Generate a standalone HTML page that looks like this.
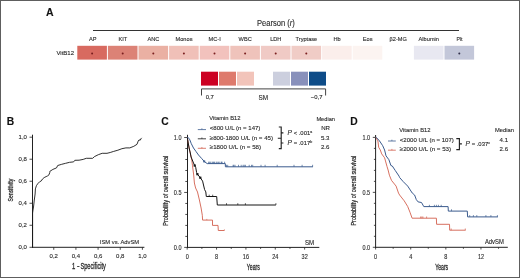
<!DOCTYPE html>
<html><head><meta charset="utf-8"><title>Figure</title>
<style>
html,body{margin:0;padding:0;background:#fff;}
body{width:520px;height:278px;overflow:hidden;position:relative;}
svg{display:block;filter:blur(0.3px);}
.bd{position:absolute;left:0;top:0;width:518px;height:276px;border:1px solid #5e5e5e;}
text{font-family:"Liberation Sans", sans-serif;}
text{stroke:#2a2a2a;stroke-width:0.12px;}
</style></head><body>
<svg width="520" height="278" viewBox="0 0 520 278">
<rect width="520" height="278" fill="#fff"/>
<text x="45.90" y="15.70" font-size="10.5" fill="#111" font-weight="bold">A</text>
<text x="257.0" y="25.6" font-size="8.2" textLength="37.8" lengthAdjust="spacingAndGlyphs" fill="#2a2a2a">Pearson (<tspan font-style="italic">r</tspan>)</text>
<line x1="93.00" y1="30.50" x2="459.00" y2="30.50" stroke="#333" stroke-width="1"/>
<rect x="77.30" y="45.80" width="29.60" height="13.80" fill="#d86a60"/>
<text x="92.80" y="41.30" font-size="6.2" text-anchor="middle" fill="#2a2a2a" textLength="7.53" lengthAdjust="spacingAndGlyphs">AP</text>
<circle cx="92.10" cy="53.6" r="1.0" fill="#7a1f1f"/>
<rect x="107.90" y="45.80" width="29.60" height="13.80" fill="#dc8276"/>
<text x="122.80" y="41.30" font-size="6.2" text-anchor="middle" fill="#2a2a2a" textLength="8.78" lengthAdjust="spacingAndGlyphs">KIT</text>
<circle cx="122.70" cy="53.6" r="1.0" fill="#7a1f1f"/>
<rect x="138.50" y="45.80" width="29.60" height="13.80" fill="#eab0a3"/>
<text x="153.40" y="41.30" font-size="6.2" text-anchor="middle" fill="#2a2a2a" textLength="11.91" lengthAdjust="spacingAndGlyphs">ANC</text>
<circle cx="153.30" cy="53.6" r="1.0" fill="#7a1f1f"/>
<rect x="169.10" y="45.80" width="29.60" height="13.80" fill="#f0c0b8"/>
<text x="184.00" y="41.30" font-size="6.2" text-anchor="middle" fill="#2a2a2a" textLength="16.93" lengthAdjust="spacingAndGlyphs">Monos</text>
<circle cx="183.90" cy="53.6" r="1.0" fill="#7a1f1f"/>
<rect x="199.70" y="45.80" width="29.60" height="13.80" fill="#f2c2bd"/>
<text x="214.60" y="41.30" font-size="6.2" text-anchor="middle" fill="#2a2a2a" textLength="12.22" lengthAdjust="spacingAndGlyphs">MC-I</text>
<circle cx="214.50" cy="53.6" r="1.0" fill="#7a1f1f"/>
<rect x="230.30" y="45.80" width="29.60" height="13.80" fill="#efc3bb"/>
<text x="245.20" y="41.30" font-size="6.2" text-anchor="middle" fill="#2a2a2a" textLength="13.16" lengthAdjust="spacingAndGlyphs">WBC</text>
<circle cx="245.10" cy="53.6" r="1.0" fill="#7a1f1f"/>
<rect x="260.90" y="45.80" width="29.60" height="13.80" fill="#f0cac5"/>
<text x="275.80" y="41.30" font-size="6.2" text-anchor="middle" fill="#2a2a2a" textLength="11.29" lengthAdjust="spacingAndGlyphs">LDH</text>
<circle cx="275.70" cy="53.6" r="1.0" fill="#7a1f1f"/>
<rect x="291.50" y="45.80" width="29.60" height="13.80" fill="#f0ccc6"/>
<text x="306.40" y="41.30" font-size="6.2" text-anchor="middle" fill="#2a2a2a" textLength="21.74" lengthAdjust="spacingAndGlyphs">Tryptase</text>
<circle cx="306.30" cy="53.6" r="1.0" fill="#7a1f1f"/>
<rect x="322.10" y="45.80" width="29.60" height="13.80" fill="#fbeeeb"/>
<text x="337.00" y="41.30" font-size="6.2" text-anchor="middle" fill="#2a2a2a" textLength="7.21" lengthAdjust="spacingAndGlyphs">Hb</text>
<rect x="352.70" y="45.80" width="29.60" height="13.80" fill="#fcf4f1"/>
<text x="367.60" y="41.30" font-size="6.2" text-anchor="middle" fill="#2a2a2a" textLength="9.72" lengthAdjust="spacingAndGlyphs">Eos</text>
<rect x="383.30" y="45.80" width="29.60" height="13.80" fill="#ffffff"/>
<text x="398.20" y="41.30" font-size="6.2" text-anchor="middle" fill="#2a2a2a" textLength="17.35" lengthAdjust="spacingAndGlyphs">&#946;2-MG</text>
<rect x="413.90" y="45.80" width="29.60" height="13.80" fill="#e8e8f1"/>
<text x="428.80" y="41.30" font-size="6.2" text-anchor="middle" fill="#2a2a2a" textLength="20.38" lengthAdjust="spacingAndGlyphs">Albumin</text>
<rect x="444.50" y="45.80" width="29.60" height="13.80" fill="#c3c7d9"/>
<text x="459.40" y="41.30" font-size="6.2" text-anchor="middle" fill="#2a2a2a" textLength="6.01" lengthAdjust="spacingAndGlyphs">Plt</text>
<circle cx="459.30" cy="53.6" r="1.0" fill="#30304a"/>
<text x="74.00" y="54.90" font-size="6.0" text-anchor="end" fill="#2a2a2a">VitB12</text>
<rect x="201.00" y="71.70" width="17.00" height="13.90" fill="#cc0022"/>
<rect x="219.00" y="71.70" width="17.00" height="13.90" fill="#de7a6c"/>
<rect x="237.00" y="71.70" width="17.00" height="13.90" fill="#f2c4ba"/>
<rect x="273.00" y="71.70" width="17.00" height="13.90" fill="#cccfde"/>
<rect x="291.00" y="71.70" width="17.00" height="13.90" fill="#8890bb"/>
<rect x="309.00" y="71.70" width="17.00" height="13.90" fill="#0e4c88"/>
<path d="M201.5,95.5 V88.9 H325.6 V95.5" fill="none" stroke="#444" stroke-width="1"/>
<text x="205.70" y="98.70" font-size="5.9" fill="#2a2a2a">0,7</text>
<text x="258.60" y="99.90" font-size="7.0" fill="#2a2a2a" textLength="9.60" lengthAdjust="spacingAndGlyphs">SM</text>
<text x="310.80" y="98.70" font-size="5.9" fill="#2a2a2a">&#8722;0,7</text>
<g class="h">
<text x="6.70" y="125.00" font-size="10.3" fill="#111" font-weight="bold">B</text>
<line x1="32.50" y1="134.70" x2="32.50" y2="247.80" stroke="#222" stroke-width="1"/>
<line x1="32.00" y1="247.30" x2="144.40" y2="247.30" stroke="#222" stroke-width="1"/>
<line x1="29.50" y1="247.30" x2="32.50" y2="247.30" stroke="#222" stroke-width="0.8"/>
<text x="26.90" y="249.40" font-size="6.0" text-anchor="end" fill="#2a2a2a" textLength="8.34" lengthAdjust="spacingAndGlyphs">0,0</text>
<line x1="29.50" y1="225.28" x2="32.50" y2="225.28" stroke="#222" stroke-width="0.8"/>
<text x="26.90" y="227.38" font-size="6.0" text-anchor="end" fill="#2a2a2a" textLength="8.34" lengthAdjust="spacingAndGlyphs">0,2</text>
<line x1="29.50" y1="203.26" x2="32.50" y2="203.26" stroke="#222" stroke-width="0.8"/>
<text x="26.90" y="205.36" font-size="6.0" text-anchor="end" fill="#2a2a2a" textLength="8.34" lengthAdjust="spacingAndGlyphs">0,4</text>
<line x1="29.50" y1="181.24" x2="32.50" y2="181.24" stroke="#222" stroke-width="0.8"/>
<text x="26.90" y="183.34" font-size="6.0" text-anchor="end" fill="#2a2a2a" textLength="8.34" lengthAdjust="spacingAndGlyphs">0,6</text>
<line x1="29.50" y1="159.22" x2="32.50" y2="159.22" stroke="#222" stroke-width="0.8"/>
<text x="26.90" y="161.32" font-size="6.0" text-anchor="end" fill="#2a2a2a" textLength="8.34" lengthAdjust="spacingAndGlyphs">0,8</text>
<line x1="29.50" y1="137.20" x2="32.50" y2="137.20" stroke="#222" stroke-width="0.8"/>
<text x="26.90" y="139.30" font-size="6.0" text-anchor="end" fill="#2a2a2a" textLength="8.34" lengthAdjust="spacingAndGlyphs">1,0</text>
<line x1="53.76" y1="247.30" x2="53.76" y2="249.80" stroke="#222" stroke-width="0.8"/>
<text x="53.76" y="257.90" font-size="6.0" text-anchor="middle" fill="#2a2a2a" textLength="8.34" lengthAdjust="spacingAndGlyphs">0,2</text>
<line x1="75.92" y1="247.30" x2="75.92" y2="249.80" stroke="#222" stroke-width="0.8"/>
<text x="75.92" y="257.90" font-size="6.0" text-anchor="middle" fill="#2a2a2a" textLength="8.34" lengthAdjust="spacingAndGlyphs">0,4</text>
<line x1="98.08" y1="247.30" x2="98.08" y2="249.80" stroke="#222" stroke-width="0.8"/>
<text x="98.08" y="257.90" font-size="6.0" text-anchor="middle" fill="#2a2a2a" textLength="8.34" lengthAdjust="spacingAndGlyphs">0,6</text>
<line x1="120.24" y1="247.30" x2="120.24" y2="249.80" stroke="#222" stroke-width="0.8"/>
<text x="120.24" y="257.90" font-size="6.0" text-anchor="middle" fill="#2a2a2a" textLength="8.34" lengthAdjust="spacingAndGlyphs">0,8</text>
<line x1="142.40" y1="247.30" x2="142.40" y2="249.80" stroke="#222" stroke-width="0.8"/>
<text x="142.40" y="257.90" font-size="6.0" text-anchor="middle" fill="#2a2a2a" textLength="8.34" lengthAdjust="spacingAndGlyphs">1,0</text>
<text x="72.10" y="268.90" font-size="8.4" fill="#2a2a2a" textLength="3.27" lengthAdjust="spacingAndGlyphs" style="stroke-width:0.3px">1</text>
<text x="76.90" y="268.90" font-size="8.4" fill="#2a2a2a" textLength="2.52" lengthAdjust="spacingAndGlyphs" style="stroke-width:0.3px">-</text>
<text x="80.40" y="268.90" font-size="8.4" fill="#2a2a2a" textLength="25.50" lengthAdjust="spacingAndGlyphs" style="stroke-width:0.3px">Specificity</text>
<text x="99.80" y="244.20" font-size="6.2" fill="#2a2a2a" textLength="39.40" lengthAdjust="spacingAndGlyphs">ISM vs. AdvSM</text>
<text transform="translate(12.6,201.4) rotate(-90)" font-size="7" textLength="22.6" lengthAdjust="spacingAndGlyphs" fill="#2a2a2a" style="stroke-width:0.3px">Sensitivity</text>
<polyline points="32.6,247.3 32.6,213.0 33.0,210.0 33.5,207.0 34.3,200.0 35.1,194.0 35.4,188.9 36.4,185.7 37.7,183.8 39.6,181.8 41.3,180.9 42.6,178.9 44.2,177.6 46.1,176.6 47.4,176.0 49.0,174.8 49.8,172.4 49.8,171.4 52.9,169.4 56.5,167.9 57.7,165.5 61.7,164.3 65.6,163.3 69.6,162.3 73.6,161.9 74.8,160.3 79.1,160.2 83.2,159.4 86.3,158.3 92.7,158.3 94.3,156.7 98.3,154.7 102.2,153.3 107.0,153.3 110.2,152.5 113.3,151.5 117.9,150.2 121.9,148.7 125.9,147.9 129.8,147.9 133.8,146.3 137.0,144.3 138.2,141.1 139.0,139.9 140.2,140.2 141.3,138.3 141.7,137.9" fill="none" stroke="#1a1a1a" stroke-width="0.9" stroke-linejoin="round"/>
<text x="161.20" y="125.00" font-size="10.3" fill="#111" font-weight="bold">C</text>
<line x1="187.50" y1="134.80" x2="187.50" y2="247.90" stroke="#222" stroke-width="1"/>
<line x1="187.00" y1="247.40" x2="319.30" y2="247.40" stroke="#222" stroke-width="1"/>
<line x1="184.20" y1="247.40" x2="187.50" y2="247.40" stroke="#222" stroke-width="0.8"/>
<line x1="185.30" y1="236.41" x2="187.50" y2="236.41" stroke="#222" stroke-width="0.8"/>
<line x1="185.30" y1="225.42" x2="187.50" y2="225.42" stroke="#222" stroke-width="0.8"/>
<line x1="185.30" y1="214.43" x2="187.50" y2="214.43" stroke="#222" stroke-width="0.8"/>
<line x1="185.30" y1="203.44" x2="187.50" y2="203.44" stroke="#222" stroke-width="0.8"/>
<line x1="184.20" y1="192.45" x2="187.50" y2="192.45" stroke="#222" stroke-width="0.8"/>
<line x1="185.30" y1="181.46" x2="187.50" y2="181.46" stroke="#222" stroke-width="0.8"/>
<line x1="185.30" y1="170.47" x2="187.50" y2="170.47" stroke="#222" stroke-width="0.8"/>
<line x1="185.30" y1="159.48" x2="187.50" y2="159.48" stroke="#222" stroke-width="0.8"/>
<line x1="185.30" y1="148.49" x2="187.50" y2="148.49" stroke="#222" stroke-width="0.8"/>
<line x1="184.20" y1="137.50" x2="187.50" y2="137.50" stroke="#222" stroke-width="0.8"/>
<text x="181.50" y="249.70" font-size="6.4" text-anchor="end" fill="#2a2a2a" textLength="7.65" lengthAdjust="spacingAndGlyphs">0.0</text>
<text x="181.50" y="194.75" font-size="6.4" text-anchor="end" fill="#2a2a2a" textLength="7.65" lengthAdjust="spacingAndGlyphs">0.5</text>
<text x="181.50" y="139.80" font-size="6.4" text-anchor="end" fill="#2a2a2a" textLength="7.65" lengthAdjust="spacingAndGlyphs">1.0</text>
<line x1="187.20" y1="247.40" x2="187.20" y2="249.60" stroke="#222" stroke-width="0.8"/>
<text x="187.20" y="259.00" font-size="6.4" text-anchor="middle" fill="#2a2a2a" textLength="3.06" lengthAdjust="spacingAndGlyphs">0</text>
<line x1="201.88" y1="247.40" x2="201.88" y2="248.90" stroke="#222" stroke-width="0.8"/>
<line x1="216.56" y1="247.40" x2="216.56" y2="249.60" stroke="#222" stroke-width="0.8"/>
<text x="216.56" y="259.00" font-size="6.4" text-anchor="middle" fill="#2a2a2a" textLength="3.06" lengthAdjust="spacingAndGlyphs">8</text>
<line x1="231.24" y1="247.40" x2="231.24" y2="248.90" stroke="#222" stroke-width="0.8"/>
<line x1="245.92" y1="247.40" x2="245.92" y2="249.60" stroke="#222" stroke-width="0.8"/>
<text x="245.92" y="259.00" font-size="6.4" text-anchor="middle" fill="#2a2a2a" textLength="6.12" lengthAdjust="spacingAndGlyphs">16</text>
<line x1="260.60" y1="247.40" x2="260.60" y2="248.90" stroke="#222" stroke-width="0.8"/>
<line x1="275.28" y1="247.40" x2="275.28" y2="249.60" stroke="#222" stroke-width="0.8"/>
<text x="275.28" y="259.00" font-size="6.4" text-anchor="middle" fill="#2a2a2a" textLength="6.12" lengthAdjust="spacingAndGlyphs">24</text>
<line x1="289.96" y1="247.40" x2="289.96" y2="248.90" stroke="#222" stroke-width="0.8"/>
<line x1="304.64" y1="247.40" x2="304.64" y2="249.60" stroke="#222" stroke-width="0.8"/>
<text x="304.64" y="259.00" font-size="6.4" text-anchor="middle" fill="#2a2a2a" textLength="6.12" lengthAdjust="spacingAndGlyphs">32</text>
<text x="246.80" y="269.70" font-size="8.3" fill="#2a2a2a" textLength="13.00" lengthAdjust="spacingAndGlyphs" style="stroke-width:0.3px">Years</text>
<text transform="translate(167.8,225.7) rotate(-90)" font-size="7.3" textLength="70.0" lengthAdjust="spacingAndGlyphs" fill="#2a2a2a" style="stroke-width:0.22px">Probability of overall survival</text>
<text x="305.00" y="244.60" font-size="6.3" fill="#2a2a2a" textLength="9.20" lengthAdjust="spacingAndGlyphs">SM</text>
<text x="209.30" y="120.40" font-size="6.2" fill="#2a2a2a" textLength="31.30" lengthAdjust="spacingAndGlyphs">Vitamin B12</text>
<text x="209.80" y="130.00" font-size="6.2" fill="#2a2a2a" textLength="50.60" lengthAdjust="spacingAndGlyphs">&lt;800 U/L (n = 147)</text>
<text x="209.80" y="139.80" font-size="6.2" fill="#2a2a2a" textLength="63.20" lengthAdjust="spacingAndGlyphs">&#8805;800-1800 U/L (n = 45)</text>
<text x="209.80" y="149.10" font-size="6.2" fill="#2a2a2a" textLength="51.30" lengthAdjust="spacingAndGlyphs">&#8805;1800 U/L (n = 58)</text>
<line x1="197.80" y1="129.60" x2="206.00" y2="129.60" stroke="#3b5b8e" stroke-width="0.8"/>
<line x1="201.90" y1="128.30" x2="201.90" y2="129.60" stroke="#3b5b8e" stroke-width="0.7"/>
<line x1="197.80" y1="138.80" x2="206.00" y2="138.80" stroke="#151515" stroke-width="0.8"/>
<line x1="201.90" y1="137.50" x2="201.90" y2="138.80" stroke="#151515" stroke-width="0.7"/>
<line x1="197.80" y1="148.30" x2="206.00" y2="148.30" stroke="#d2604e" stroke-width="0.8"/>
<line x1="201.90" y1="147.00" x2="201.90" y2="148.30" stroke="#d2604e" stroke-width="0.7"/>
<text x="316.40" y="120.60" font-size="5.9" fill="#2a2a2a" textLength="18.60" lengthAdjust="spacingAndGlyphs">Median</text>
<text x="325.60" y="130.00" font-size="6.1" text-anchor="middle" fill="#2a2a2a">NR</text>
<text x="325.20" y="139.60" font-size="6.1" text-anchor="middle" fill="#2a2a2a">5.3</text>
<text x="325.20" y="148.90" font-size="6.1" text-anchor="middle" fill="#2a2a2a">2.6</text>
<path d="M278.8,127 H281.2 V148.6 H278.8 M277.8,138.2 H281.2 M281.2,132.8 H283.4 M281.2,143 H283.4" fill="none" stroke="#222" stroke-width="1.15"/>
<text x="287.6" y="134.8" font-size="5.9" fill="#2a2a2a"><tspan font-style="italic" font-size="6.6">P</tspan> &lt; .001<tspan font-size="3.6" dy="-2.2">a</tspan></text>
<text x="287.6" y="145.0" font-size="5.9" fill="#2a2a2a"><tspan font-style="italic" font-size="6.6">P</tspan> = .017<tspan font-size="3.6" dy="-2.2">b</tspan></text>
<polyline points="187.3,137.4 189.1,148.0 191.1,157.0 191.8,160.0 192.5,165.8 193.7,175.0 194.4,183.0 195.6,188.0 197.5,192.0 199.4,200.0 201.1,208.0 202.3,215.3 202.6,220.1 212.5,220.1 212.5,225.4 218.0,225.4 218.3,230.5 224.4,230.5" fill="none" stroke="#d2604e" stroke-width="0.9" stroke-linejoin="round"/>
<polyline points="187.3,137.4 188.2,143.0 189.1,148.0 190.3,153.0 191.1,157.0 192.3,160.0 193.5,163.0 194.7,165.5 195.7,167.3 196.6,172.5 197.4,174.2 200.3,177.7 202.6,181.1 203.5,185.0 204.6,189.6 205.8,191.9 206.3,196.5 216.7,196.5 217.3,205.0 275.9,205.0" fill="none" stroke="#151515" stroke-width="1.0" stroke-linejoin="round"/>
<polyline points="187.3,137.4 188.3,137.6 189.8,139.8 191.3,143.7 193.5,148.0 196.0,151.5 198.5,155.0 201.5,158.3 204.3,161.5 207.2,163.6 225.3,163.6 225.4,166.8 312.9,166.8" fill="none" stroke="#3b5b8e" stroke-width="1.0" stroke-linejoin="round"/>
<line x1="208.60" y1="163.60" x2="208.60" y2="161.70" stroke="#3b5b8e" stroke-width="0.7"/>
<line x1="209.70" y1="163.60" x2="209.70" y2="161.70" stroke="#3b5b8e" stroke-width="0.7"/>
<line x1="210.80" y1="163.60" x2="210.80" y2="161.70" stroke="#3b5b8e" stroke-width="0.7"/>
<line x1="212.40" y1="163.60" x2="212.40" y2="161.70" stroke="#3b5b8e" stroke-width="0.7"/>
<line x1="213.50" y1="163.60" x2="213.50" y2="161.70" stroke="#3b5b8e" stroke-width="0.7"/>
<line x1="214.50" y1="163.60" x2="214.50" y2="161.70" stroke="#3b5b8e" stroke-width="0.7"/>
<line x1="216.20" y1="163.60" x2="216.20" y2="161.70" stroke="#3b5b8e" stroke-width="0.7"/>
<line x1="217.20" y1="163.60" x2="217.20" y2="161.70" stroke="#3b5b8e" stroke-width="0.7"/>
<line x1="218.60" y1="163.60" x2="218.60" y2="161.70" stroke="#3b5b8e" stroke-width="0.7"/>
<line x1="219.90" y1="163.60" x2="219.90" y2="161.70" stroke="#3b5b8e" stroke-width="0.7"/>
<line x1="221.50" y1="163.60" x2="221.50" y2="161.70" stroke="#3b5b8e" stroke-width="0.7"/>
<line x1="222.10" y1="163.60" x2="222.10" y2="161.70" stroke="#3b5b8e" stroke-width="0.7"/>
<line x1="224.60" y1="163.60" x2="224.60" y2="161.70" stroke="#3b5b8e" stroke-width="0.7"/>
<rect x="203.2" y="160.4" width="2" height="2" fill="#3b5b8e"/>
<line x1="226.50" y1="166.80" x2="226.50" y2="164.80" stroke="#3b5b8e" stroke-width="0.7"/>
<line x1="227.70" y1="166.80" x2="227.70" y2="164.80" stroke="#3b5b8e" stroke-width="0.7"/>
<line x1="233.10" y1="166.80" x2="233.10" y2="164.80" stroke="#3b5b8e" stroke-width="0.7"/>
<line x1="233.80" y1="166.80" x2="233.80" y2="164.80" stroke="#3b5b8e" stroke-width="0.7"/>
<line x1="235.00" y1="166.80" x2="235.00" y2="164.80" stroke="#3b5b8e" stroke-width="0.7"/>
<line x1="238.50" y1="166.80" x2="238.50" y2="164.80" stroke="#3b5b8e" stroke-width="0.7"/>
<line x1="241.20" y1="166.80" x2="241.20" y2="164.80" stroke="#3b5b8e" stroke-width="0.7"/>
<line x1="243.10" y1="166.80" x2="243.10" y2="164.80" stroke="#3b5b8e" stroke-width="0.7"/>
<line x1="244.20" y1="166.80" x2="244.20" y2="164.80" stroke="#3b5b8e" stroke-width="0.7"/>
<line x1="245.40" y1="166.80" x2="245.40" y2="164.80" stroke="#3b5b8e" stroke-width="0.7"/>
<line x1="249.20" y1="166.80" x2="249.20" y2="164.80" stroke="#3b5b8e" stroke-width="0.7"/>
<line x1="251.50" y1="166.80" x2="251.50" y2="164.80" stroke="#3b5b8e" stroke-width="0.7"/>
<line x1="252.70" y1="166.80" x2="252.70" y2="164.80" stroke="#3b5b8e" stroke-width="0.7"/>
<line x1="261.00" y1="166.80" x2="261.00" y2="164.80" stroke="#3b5b8e" stroke-width="0.7"/>
<line x1="265.10" y1="166.80" x2="265.10" y2="164.80" stroke="#3b5b8e" stroke-width="0.7"/>
<line x1="277.20" y1="166.80" x2="277.20" y2="164.80" stroke="#3b5b8e" stroke-width="0.7"/>
<line x1="294.00" y1="166.80" x2="294.00" y2="164.80" stroke="#3b5b8e" stroke-width="0.7"/>
<line x1="302.10" y1="166.80" x2="302.10" y2="164.80" stroke="#3b5b8e" stroke-width="0.7"/>
<line x1="312.60" y1="166.80" x2="312.60" y2="164.80" stroke="#3b5b8e" stroke-width="0.7"/>
<line x1="209.20" y1="196.50" x2="209.20" y2="194.70" stroke="#151515" stroke-width="0.7"/>
<line x1="212.70" y1="196.50" x2="212.70" y2="194.70" stroke="#151515" stroke-width="0.7"/>
<line x1="226.50" y1="205.00" x2="226.50" y2="203.20" stroke="#151515" stroke-width="0.7"/>
<line x1="237.80" y1="205.00" x2="237.80" y2="203.20" stroke="#151515" stroke-width="0.7"/>
<line x1="245.40" y1="205.00" x2="245.40" y2="203.20" stroke="#151515" stroke-width="0.7"/>
<line x1="275.90" y1="205.00" x2="275.90" y2="203.20" stroke="#151515" stroke-width="0.7"/>
<rect x="193.6" y="164.4" width="2.2" height="2.2" fill="#151515"/>
<rect x="196.3" y="173.1" width="2.2" height="2.2" fill="#151515"/>
<rect x="199.2" y="176.6" width="2.2" height="2.2" fill="#151515"/>
<line x1="206.80" y1="220.10" x2="206.80" y2="218.90" stroke="#d2604e" stroke-width="0.6"/>
<line x1="224.40" y1="230.50" x2="224.40" y2="229.30" stroke="#d2604e" stroke-width="0.6"/>
<text x="350.30" y="124.90" font-size="10.3" fill="#111" font-weight="bold">D</text>
<line x1="375.60" y1="135.00" x2="375.60" y2="247.80" stroke="#222" stroke-width="1"/>
<line x1="375.10" y1="247.30" x2="507.80" y2="247.30" stroke="#222" stroke-width="1"/>
<line x1="372.80" y1="247.30" x2="375.60" y2="247.30" stroke="#222" stroke-width="0.8"/>
<line x1="373.90" y1="236.31" x2="375.60" y2="236.31" stroke="#222" stroke-width="0.8"/>
<line x1="373.90" y1="225.32" x2="375.60" y2="225.32" stroke="#222" stroke-width="0.8"/>
<line x1="373.90" y1="214.33" x2="375.60" y2="214.33" stroke="#222" stroke-width="0.8"/>
<line x1="373.90" y1="203.34" x2="375.60" y2="203.34" stroke="#222" stroke-width="0.8"/>
<line x1="372.80" y1="192.35" x2="375.60" y2="192.35" stroke="#222" stroke-width="0.8"/>
<line x1="373.90" y1="181.36" x2="375.60" y2="181.36" stroke="#222" stroke-width="0.8"/>
<line x1="373.90" y1="170.37" x2="375.60" y2="170.37" stroke="#222" stroke-width="0.8"/>
<line x1="373.90" y1="159.38" x2="375.60" y2="159.38" stroke="#222" stroke-width="0.8"/>
<line x1="373.90" y1="148.39" x2="375.60" y2="148.39" stroke="#222" stroke-width="0.8"/>
<line x1="372.80" y1="137.40" x2="375.60" y2="137.40" stroke="#222" stroke-width="0.8"/>
<text x="370.10" y="249.60" font-size="6.4" text-anchor="end" fill="#2a2a2a" textLength="7.65" lengthAdjust="spacingAndGlyphs">0.0</text>
<text x="370.10" y="194.65" font-size="6.4" text-anchor="end" fill="#2a2a2a" textLength="7.65" lengthAdjust="spacingAndGlyphs">0.5</text>
<text x="370.10" y="139.70" font-size="6.4" text-anchor="end" fill="#2a2a2a" textLength="7.65" lengthAdjust="spacingAndGlyphs">1.0</text>
<line x1="375.60" y1="247.30" x2="375.60" y2="249.50" stroke="#222" stroke-width="0.8"/>
<text x="375.60" y="259.00" font-size="6.4" text-anchor="middle" fill="#2a2a2a" textLength="3.06" lengthAdjust="spacingAndGlyphs">0</text>
<line x1="393.16" y1="247.30" x2="393.16" y2="248.80" stroke="#222" stroke-width="0.8"/>
<line x1="410.72" y1="247.30" x2="410.72" y2="249.50" stroke="#222" stroke-width="0.8"/>
<text x="410.72" y="259.00" font-size="6.4" text-anchor="middle" fill="#2a2a2a" textLength="3.06" lengthAdjust="spacingAndGlyphs">4</text>
<line x1="428.28" y1="247.30" x2="428.28" y2="248.80" stroke="#222" stroke-width="0.8"/>
<line x1="445.84" y1="247.30" x2="445.84" y2="249.50" stroke="#222" stroke-width="0.8"/>
<text x="445.84" y="259.00" font-size="6.4" text-anchor="middle" fill="#2a2a2a" textLength="3.06" lengthAdjust="spacingAndGlyphs">8</text>
<line x1="463.40" y1="247.30" x2="463.40" y2="248.80" stroke="#222" stroke-width="0.8"/>
<line x1="480.96" y1="247.30" x2="480.96" y2="249.50" stroke="#222" stroke-width="0.8"/>
<text x="480.96" y="259.00" font-size="6.4" text-anchor="middle" fill="#2a2a2a" textLength="6.12" lengthAdjust="spacingAndGlyphs">12</text>
<line x1="498.52" y1="247.30" x2="498.52" y2="248.80" stroke="#222" stroke-width="0.8"/>
<text x="435.20" y="269.70" font-size="8.3" fill="#2a2a2a" textLength="13.00" lengthAdjust="spacingAndGlyphs" style="stroke-width:0.3px">Years</text>
<text transform="translate(356.0,225.6) rotate(-90)" font-size="7.3" textLength="69.8" lengthAdjust="spacingAndGlyphs" fill="#2a2a2a" style="stroke-width:0.22px">Probability of overall survival</text>
<text x="484.90" y="244.40" font-size="6.3" fill="#2a2a2a" textLength="18.90" lengthAdjust="spacingAndGlyphs">AdvSM</text>
<text x="399.30" y="131.80" font-size="6.2" fill="#2a2a2a" textLength="31.30" lengthAdjust="spacingAndGlyphs">Vitamin B12</text>
<text x="399.80" y="141.50" font-size="6.2" fill="#2a2a2a" textLength="54.00" lengthAdjust="spacingAndGlyphs">&lt;2000 U/L (n = 107)</text>
<text x="399.80" y="150.70" font-size="6.2" fill="#2a2a2a" textLength="51.30" lengthAdjust="spacingAndGlyphs">&#8805;2000 U/L (n = 53)</text>
<line x1="388.00" y1="141.00" x2="395.80" y2="141.00" stroke="#3b5b8e" stroke-width="0.8"/>
<line x1="391.90" y1="139.70" x2="391.90" y2="141.00" stroke="#3b5b8e" stroke-width="0.7"/>
<line x1="388.00" y1="150.20" x2="395.80" y2="150.20" stroke="#d2604e" stroke-width="0.8"/>
<line x1="391.90" y1="148.90" x2="391.90" y2="150.20" stroke="#d2604e" stroke-width="0.7"/>
<text x="495.00" y="132.00" font-size="5.9" fill="#2a2a2a" textLength="19.00" lengthAdjust="spacingAndGlyphs">Median</text>
<text x="503.80" y="141.70" font-size="6.1" text-anchor="middle" fill="#2a2a2a">4.1</text>
<text x="503.80" y="150.50" font-size="6.1" text-anchor="middle" fill="#2a2a2a">2.6</text>
<path d="M456.3,138.6 H459.4 V149.6 H456.3 M459.4,143.9 H461.9" fill="none" stroke="#222" stroke-width="1.15"/>
<text x="465.6" y="145.9" font-size="5.9" fill="#2a2a2a"><tspan font-style="italic" font-size="6.6">P</tspan> = .037<tspan font-size="3.6" dy="-2.2">c</tspan></text>
<polyline points="375.8,137.4 377.9,140.9 378.7,147.3 380.3,150.0 381.7,153.9 384.6,157.8 387.0,166.5 388.1,170.0 389.4,175.2 391.5,180.4 396.1,186.1 398.5,193.1 399.6,195.0 404.2,200.8 407.7,206.5 410.0,212.3 412.1,218.2 436.4,218.2 436.6,224.3 449.5,224.3 449.7,230.2 465.6,230.2" fill="none" stroke="#d2604e" stroke-width="0.9" stroke-linejoin="round"/>
<polyline points="375.8,137.4 376.3,137.4 379.5,140.9 382.7,145.7 384.6,150.0 386.0,155.8 388.9,159.7 390.9,165.5 392.3,166.0 395.2,170.4 399.1,176.2 399.6,177.5 403.1,181.5 407.7,186.1 412.3,193.1 414.6,195.0 416.3,199.6 418.1,201.9 421.5,202.5 423.8,206.6 448.1,206.6 448.3,211.1 467.3,211.1 467.6,216.9 497.9,216.9" fill="none" stroke="#3b5b8e" stroke-width="1.0" stroke-linejoin="round"/>
<line x1="429.40" y1="206.60" x2="429.40" y2="204.80" stroke="#3b5b8e" stroke-width="0.7"/>
<line x1="434.40" y1="206.60" x2="434.40" y2="204.80" stroke="#3b5b8e" stroke-width="0.7"/>
<line x1="436.40" y1="206.60" x2="436.40" y2="204.80" stroke="#3b5b8e" stroke-width="0.7"/>
<line x1="438.40" y1="206.60" x2="438.40" y2="204.80" stroke="#3b5b8e" stroke-width="0.7"/>
<line x1="441.20" y1="206.60" x2="441.20" y2="204.80" stroke="#3b5b8e" stroke-width="0.7"/>
<line x1="451.50" y1="211.10" x2="451.50" y2="209.30" stroke="#3b5b8e" stroke-width="0.7"/>
<line x1="469.70" y1="216.90" x2="469.70" y2="215.10" stroke="#3b5b8e" stroke-width="0.7"/>
<line x1="473.40" y1="216.90" x2="473.40" y2="215.10" stroke="#3b5b8e" stroke-width="0.7"/>
<line x1="476.80" y1="216.90" x2="476.80" y2="215.10" stroke="#3b5b8e" stroke-width="0.7"/>
<line x1="485.90" y1="216.90" x2="485.90" y2="215.10" stroke="#3b5b8e" stroke-width="0.7"/>
<line x1="490.90" y1="216.90" x2="490.90" y2="215.10" stroke="#3b5b8e" stroke-width="0.7"/>
<line x1="497.40" y1="216.90" x2="497.40" y2="215.10" stroke="#3b5b8e" stroke-width="0.7"/>
<line x1="420.60" y1="218.20" x2="420.60" y2="216.50" stroke="#d2604e" stroke-width="0.7"/>
<line x1="421.80" y1="218.20" x2="421.80" y2="216.50" stroke="#d2604e" stroke-width="0.7"/>
<line x1="422.90" y1="218.20" x2="422.90" y2="216.50" stroke="#d2604e" stroke-width="0.7"/>
<line x1="426.60" y1="218.20" x2="426.60" y2="216.50" stroke="#d2604e" stroke-width="0.7"/>
<line x1="451.20" y1="230.20" x2="451.20" y2="228.50" stroke="#d2604e" stroke-width="0.7"/>
<line x1="465.30" y1="230.20" x2="465.30" y2="228.50" stroke="#d2604e" stroke-width="0.7"/>
</g>
</svg>
<div class="bd"></div>
</body></html>
